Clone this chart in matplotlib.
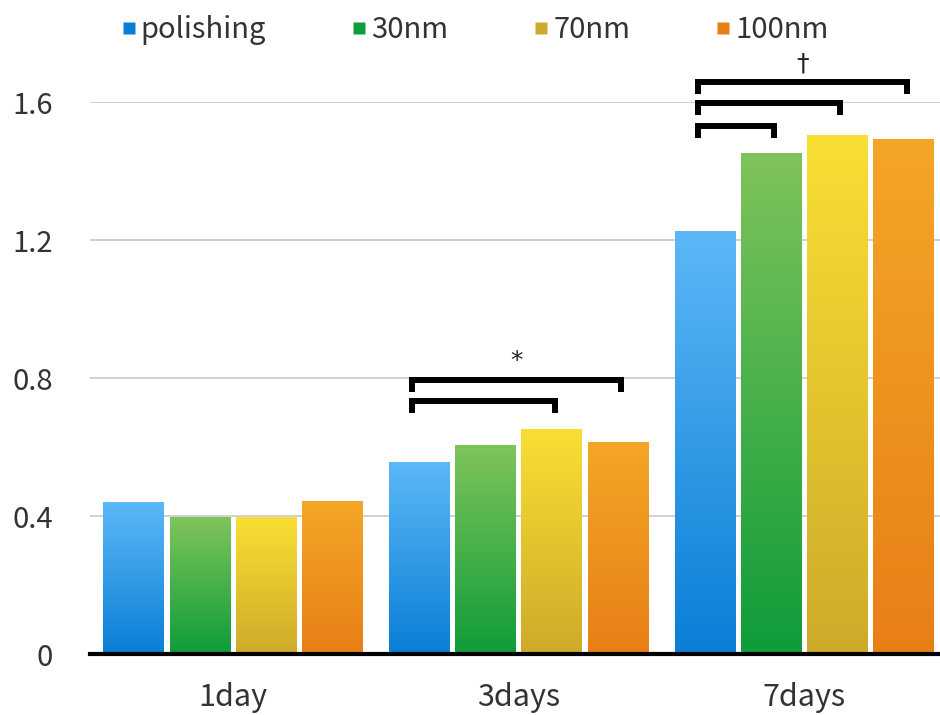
import numpy as np
import matplotlib
matplotlib.use('Agg')
import matplotlib.pyplot as plt
from matplotlib.colors import LinearSegmentedColormap

plt.rcParams['font.family'] = ['Noto Sans CJK KR', 'DejaVu Sans']

# ===========================
# 데이터
# ===========================
GROUPS = ["1day", "3days", "7days"]
SERIES = ["polishing", "30nm", "70nm", "100nm"]
polishing = [0.438, 0.554, 1.226]
nm30 = [0.397, 0.606, 1.452]
nm70 = [0.397, 0.652, 1.504]
nm100 = [0.443, 0.612, 1.493]
VALUES = [polishing, nm30, nm70, nm100]

# (group, left bar, right bar, bracket height, label)
BRACKETS = [
    (1, 0, 2, 0.733, ""),
    (1, 0, 3, 0.794, "*"),
    (2, 0, 1, 1.530, ""),
    (2, 0, 2, 1.597, ""),
    (2, 0, 3, 1.658, "\u2020"),
]

TOP_COLORS = ["#5cb8f7", "#7fc45a", "#f9df34", "#f4a626"]
BOT_COLORS = ["#0a7ed6", "#0f9c3a", "#cdab2a", "#e87f16"]

BAR_W = 0.213
STEP = 0.232

fig, ax = plt.subplots(figsize=(9.4, 7.15), dpi=100)
fig.subplots_adjust(left=0.096, right=1.0, top=0.857, bottom=0.0853)

grad = np.linspace(1, 0, 256).reshape(-1, 1)
x = np.arange(len(GROUPS))
for i, (name, vals) in enumerate(zip(SERIES, VALUES)):
    cmap = LinearSegmentedColormap.from_list(name, [BOT_COLORS[i], TOP_COLORS[i]])
    offs = (i - 1.5) * STEP
    for xi, v in zip(x, vals):
        x0 = xi + offs - BAR_W / 2
        ax.imshow(grad, extent=[x0, x0 + BAR_W, 0, v], cmap=cmap, aspect='auto',
                  zorder=2, interpolation='bicubic')

# brackets
for g, a, b, h, lab in BRACKETS:
    xa = g + (a - 1.5) * STEP - 0.025
    xb = g + (b - 1.5) * STEP + 0.01
    drop = 0.035
    ax.plot([xa, xa, xb, xb], [h - drop, h, h, h - drop], color='black', lw=4.3,
            solid_joinstyle='miter', solid_capstyle='butt', zorder=4, clip_on=False)
    if lab:
        ax.text((xa + xb) / 2, h + 0.02, lab, ha='center', va='bottom',
                fontsize=18, color='#222222', family='DejaVu Sans')

ax.set_xlim(-0.5, 2.475)
ax.set_ylim(0, 1.6)
ax.set_yticks([0, 0.4, 0.8, 1.2, 1.6])
ax.set_yticklabels(["0", "0.4", "0.8", "1.2", "1.6"])
ax.set_xticks(x)
ax.set_xticklabels(GROUPS)
ax.tick_params(axis='both', length=0, labelsize=22, colors='#333333')
ax.tick_params(axis='x', pad=20)
ax.tick_params(axis='y', labelsize=21, pad=27)
ax.grid(axis='y', color='#c8c8c8', lw=1.2, zorder=0)
for s in ['top', 'right', 'left']:
    ax.spines[s].set_visible(False)
ax.spines['bottom'].set_linewidth(3)
ax.spines['bottom'].set_zorder(5)

handles = []
for i, name in enumerate(SERIES):
    handles.append(plt.Line2D([], [], marker='s', ls='', markersize=9,
                              markerfacecolor=BOT_COLORS[i], markeredgecolor='none',
                              label=name))
fig.legend(handles=handles, loc='center', bbox_to_anchor=(0.5, 0.958), ncol=4,
           frameon=False, fontsize=21, handletextpad=-0.2, columnspacing=2.6,
           handlelength=1.2, labelcolor='#333333')

plt.savefig("out.png", dpi=100)
